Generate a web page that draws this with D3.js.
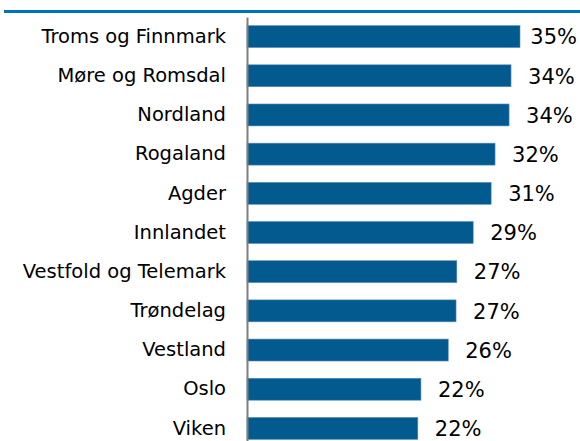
<!DOCTYPE html>
<html>
<head>
<meta charset="utf-8">
<script src="https://cdn.jsdelivr.net/npm/d3@7"></script>
<style>
  body { margin: 0; background: #fff; }
  text { font-family: "DejaVu Sans", sans-serif; fill: #000; }
</style>
</head>
<body>
<div id="chart"></div>
<script>
var regions = ['Troms og Finnmark', 'Møre og Romsdal', 'Nordland', 'Rogaland', 'Agder',
    'Innlandet', 'Vestfold og Telemark', 'Trøndelag', 'Vestland', 'Oslo', 'Viken'];
var shares = [0.350, 0.3385, 0.336, 0.318, 0.313, 0.290, 0.269, 0.268, 0.258, 0.223, 0.219];

var W = 580, H = 441;
var m = {l: 247, t: 17};

var svg = d3.select('#chart').append('svg')
    .attr('width', W)
    .attr('height', H);

// blue rule at the top
svg.append('rect')
    .attr('x', 4).attr('y', 10)
    .attr('width', W - 4).attr('height', 3)
    .attr('fill', '#0070c0');

var x = d3.scaleLinear().domain([0, 0.35]).range([m.l, 520]);
var y = d3.scaleBand().domain(regions).range([m.t, 448])
    .paddingInner(0.44).paddingOuter(0.22);

var data = regions.map(function(r, i) { return [r, shares[i]]; });

var bars = svg.selectAll('.bar').data(data).enter()
    .append('g').attr('class', 'bar');

bars.append('rect')
    .attr('x', x(0))
    .attr('y', function(d) { return y(d[0]); })
    .attr('width', function(d) { return x(d[1]) - x(0); })
    .attr('height', y.bandwidth())
    .attr('fill', '#025a8f')
    .attr('stroke', '#5b8fbf')
    .attr('stroke-width', 0.6);

// value labels, pushed back in if they would run off the right edge
bars.append('text')
    .text(function(d) { return d3.format('.0%')(d[1]); })
    .attr('y', function(d) { return y(d[0]) + y.bandwidth() / 2; })
    .attr('dy', '0.37em')
    .attr('font-size', 21)
    .attr('x', function(d) {
        var w = this.getComputedTextLength();
        return Math.min(x(d[1]) + 17, W - 3 - w);
    });

// category axis
var yAxis = svg.append('g')
    .attr('transform', 'translate(' + m.l + ',0)')
    .call(d3.axisLeft(y).tickSize(0).tickPadding(21));
yAxis.select('.domain').attr('stroke', '#7f7f7f').attr('stroke-width', 2);
yAxis.selectAll('text')
    .attr('font-size', 19.5)
    .attr('font-family', '"DejaVu Sans", sans-serif')
    .attr('fill', '#000');
</script>
</body>
</html>
